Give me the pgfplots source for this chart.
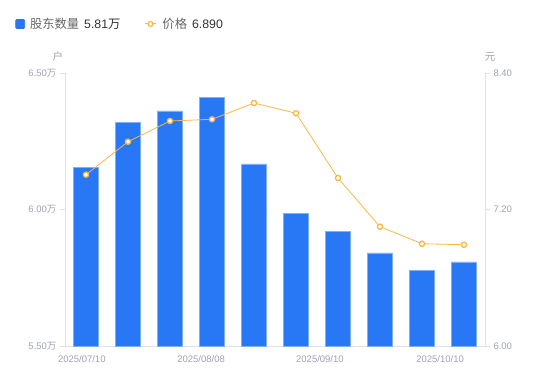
\documentclass[border=0pt]{standalone}
\usepackage{fontspec}
\setmainfont{Liberation Sans}
\newfontfamily\cjk{Noto Sans CJK SC}
\usepackage{pgfplots}
\pgfplotsset{compat=1.18}
\definecolor{barblue}{HTML}{2878F5}
\definecolor{baredge}{HTML}{7FB0FA}
\definecolor{lineorange}{HTML}{F7B745}
\definecolor{axisgray}{HTML}{E0E1E6}
\definecolor{labgray}{HTML}{9EA1B3}
\definecolor{legtext}{HTML}{333333}
\definecolor{leglab}{HTML}{666666}
\pgfplotsset{
  base/.style={scale only axis, width=420pt, height=273pt, at={(65pt,35pt)}, anchor=south west,
    xmin=-0.5, xmax=9.5,
    axis line style={axisgray, line width=0.8pt},
    tick style={axisgray, line width=0.8pt},
    tick align=outside, major tick length=5pt,
    tick label style={labgray, font=\fontsize{9.5}{11}\selectfont},
    clip=false},
}
\begin{document}
\begin{tikzpicture}
\path[use as bounding box] (0,0) rectangle (550pt,381pt);
\begin{axis}[base,
  ymin=5.5, ymax=6.5,
  ytick={5.5,6,6.5},
  yticklabels={5.50{\cjk 万},6.00{\cjk 万},6.50{\cjk 万}},
  axis x line*=bottom, axis y line*=left,
  xtick={-0.1,2.74,5.57,8.43},
  xticklabels={2025/07/10,2025/08/08,2025/09/10,2025/10/10},
  x tick style={draw=none},
  xticklabel style={yshift=-1pt},
  legend style={at={(-0.118,1.1795)}, anchor=west, draw=none, fill=none,
    inner sep=0pt, outer sep=0pt,
    font=\fontsize{12.3}{14}\selectfont,
    /tikz/every even column/.append style={column sep=22pt}},
  legend columns=2, legend cell align=left,
]
\addplot[ybar, bar width=25pt, bar shift=0pt, fill=barblue, draw=baredge, line width=0.6pt,
  legend image code/.code={\fill[barblue, rounded corners=1pt] (0pt,-4.5pt) rectangle (9pt,4.5pt);}]
  coordinates {(0,6.153) (1,6.318) (2,6.361) (3,6.412) (4,6.167) (5,5.986) (6,5.921) (7,5.841) (8,5.777) (9,5.808)};
\addlegendentry{\hspace{3pt}{\color{leglab}\cjk 股东数量}\hspace{5pt}{\color{legtext}5.81{\cjk 万}}}
\addlegendimage{legend image code/.code={\draw[lineorange, line width=1pt] (0pt,0pt) -- (11pt,0pt); \draw[lineorange, line width=1.2pt, fill=white] (5.5pt,0pt) circle (2.5pt);}}
\addlegendentry{\hspace{4pt}{\color{leglab}\cjk 价格}\hspace{5pt}{\color{legtext}6.890}}
\node[labgray, font=\cjk\fontsize{10.5}{12}\selectfont] at (axis description cs:-0.017,1.0586) {户};
\node[labgray, font=\cjk\fontsize{10.5}{12}\selectfont] at (axis description cs:1.012,1.0586) {元};
\end{axis}
\begin{axis}[base,
  ymin=6, ymax=8.4,
  ytick={6,7.2,8.4},
  yticklabels={6.00,7.20,8.40},
  axis y line*=right, axis x line=none,
]
\addplot[lineorange, line width=0.8pt, mark=*, mark size=2.6pt,
  mark options={fill=white, draw=lineorange, line width=1.3pt}]
  coordinates {(0,7.506) (1,7.796) (2,7.978) (3,7.993) (4,8.136) (5,8.046) (6,7.477) (7,7.049) (8,6.899) (9,6.890)};
\end{axis}
\end{tikzpicture}
\end{document}
